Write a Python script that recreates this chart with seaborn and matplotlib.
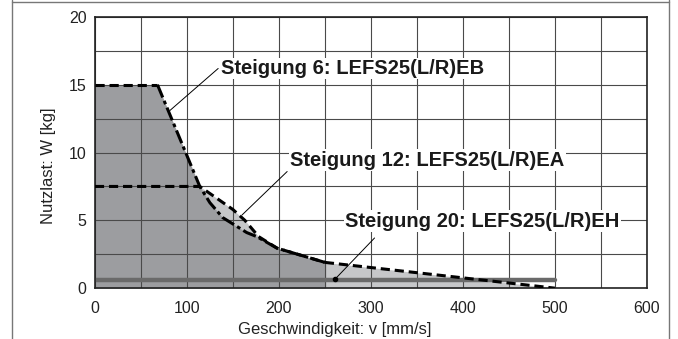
import numpy as np
import pandas as pd
import matplotlib
matplotlib.use("Agg")
import matplotlib.pyplot as plt
import seaborn as sns
from matplotlib.lines import Line2D

# values
lead6_v = [0, 68, 114, 125, 139, 165, 176, 198, 250]
lead6_w = [15, 15, 7.5, 6.3, 5.2, 4.1, 3.8, 2.95, 1.9]

lead12_v = [0, 114, 150, 163, 178, 198, 250]
lead12_w = [7.5, 7.5, 5.8, 5.0, 3.8, 2.95, 1.9]

lead20_v = [250, 500]
lead20_w = [1.9, 0]

band_v = [0, 500]
band_w = [0.6, 0.6]

labels = ["Steigung 6: LEFS25(L/R)EB", "Steigung 12: LEFS25(L/R)EA", "Steigung 20: LEFS25(L/R)EH"]
label_pos = [(137, 16.2), (212, 9.45), (272, 4.95)]
leader_from = [(81.5, 13.1), (160, 5.4), (261, 0.66)]
leader_to = [(134, 16.2), (209, 8.6), (304, 3.7)]

sns.set_style("white")
plt.rcParams['font.family'] = ['Liberation Sans', 'DejaVu Sans']

fig = plt.figure(figsize=(6.78, 3.39), dpi=100)
ax = fig.add_axes([0.140, 0.150, 0.814, 0.800])

dark = "#9c9da0"
light = "#c6c7c9"

ax.fill_between(lead12_v, lead12_w, 0, color=light, lw=0, zorder=1)
ax.fill_between(lead20_v, lead20_w, 0, color=light, lw=0, zorder=1)
ax.fill_between(lead6_v, lead6_w, 0, color=dark, lw=0, zorder=1.05)

ax.set_xlim(0, 600)
ax.set_ylim(0, 20)
ax.set_xticks(np.arange(0, 601, 100))
ax.set_yticks(np.arange(0, 21, 5))
ax.set_xticks(np.arange(0, 601, 50), minor=True)
ax.set_yticks(np.arange(0, 20.1, 2.5), minor=True)
ax.grid(which="both", color="#4a4a4a", lw=0.8)
ax.set_axisbelow("line")
ax.tick_params(which="both", length=0, labelsize=11.5, colors="#222222")
ax.tick_params(axis="x", pad=9)
ax.tick_params(axis="y", pad=6)

# gray band
sns.lineplot(x=band_v, y=band_w, ax=ax, color="#6a6a6a", lw=3.2, zorder=2, sort=False)

# lead 12
d12 = pd.DataFrame({"v": lead12_v, "w": lead12_w})
sns.lineplot(data=d12, x="v", y="w", ax=ax, color="black", lw=2.2, sort=False, zorder=3)
ax.lines[-1].set_dashes((3, 1.6))

# lead 6: flat part dashed, falling part dash-dot
d6 = pd.DataFrame({"v": lead6_v, "w": lead6_w})
sns.lineplot(data=d6.iloc[:2], x="v", y="w", ax=ax, color="black", lw=2.2, sort=False, zorder=3)
ax.lines[-1].set_dashes((3, 1.6))
sns.lineplot(data=d6.iloc[1:], x="v", y="w", ax=ax, color="black", lw=2.2, sort=False, zorder=3)
ax.lines[-1].set_dashes((4.5, 1.2, 1.2, 1.2))

# lead 20
sns.lineplot(x=[lead20_v[0], lead20_v[0]], y=[0, lead20_w[0]], ax=ax, color="black",
             lw=2.4, sort=False, zorder=3)
sns.lineplot(x=lead20_v, y=lead20_w, ax=ax, color="black", lw=2.2, sort=False, zorder=3)
ax.lines[-1].set_dashes((3, 1.6))

for txt, (tx, ty), (fx, fy), (ex, ey) in zip(labels, label_pos, leader_from, leader_to):
    ax.plot([fx, ex], [fy, ey], color="black", lw=0.7, zorder=4)
    ax.text(tx, ty, txt, fontsize=14.5, fontweight="bold", ha="left", va="center",
            color="#1a1a1a", zorder=5,
            bbox=dict(facecolor="white", edgecolor="none", pad=1.0))
ax.plot([leader_from[2][0]], [leader_from[2][1]], "o", color="black", ms=3, zorder=4)

for s in ax.spines.values():
    s.set_color("#222222")
    s.set_linewidth(1.2)

ax.set_xlabel("Geschwindigkeit: v [mm/s]", fontsize=12, color="#222222")
ax.set_ylabel("Nutzlast: W [kg]", fontsize=12, color="#222222")
ax.xaxis.set_label_coords(261 / 600, -0.125)
ax.yaxis.set_label_coords(-0.071, 0.45)

# outer frame
for xs, ys in [([12, 12], [0, 339]), ([669, 669], [0, 339]), ([12, 669], [2, 2])]:
    fig.add_artist(Line2D([x / 678 for x in xs], [1 - y / 339 for y in ys],
                          color="#777777", lw=1))

fig.savefig("out.png", dpi=100)
